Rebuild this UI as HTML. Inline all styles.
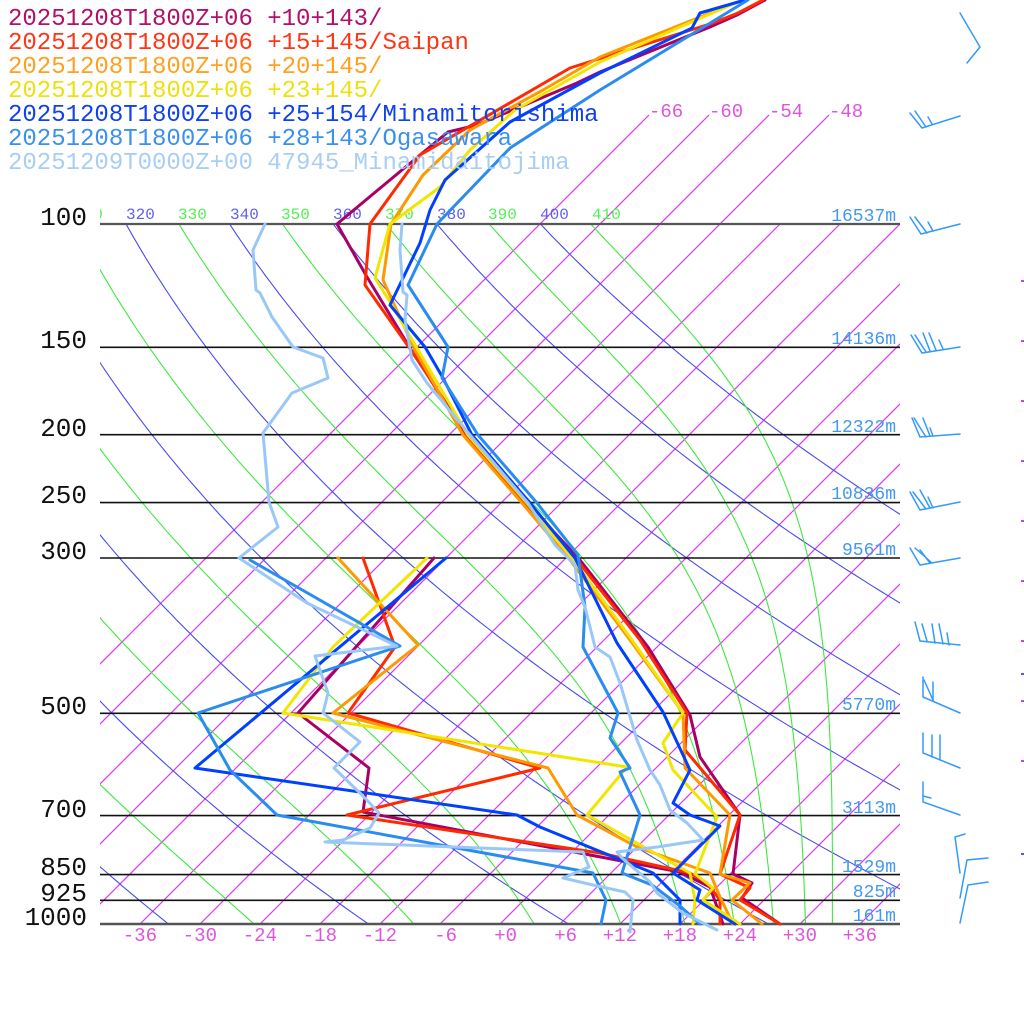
<!DOCTYPE html>
<html><head><meta charset="utf-8"><style>
html,body{margin:0;padding:0;background:#fff;}
svg{display:block;}
text{font-family:"Liberation Mono","DejaVu Sans Mono",monospace;}
</style></head><body>
<svg id="s" width="1024" height="1024" viewBox="0 0 1024 1024" xmlns="http://www.w3.org/2000/svg">
<defs>
<clipPath id="cp"><rect x="100" y="224" width="800" height="700"/></clipPath>
<clipPath id="cpi"><rect x="100" y="0" width="800" height="924"/></clipPath>
<clipPath id="cpl"><rect x="100" y="190" width="820" height="40"/></clipPath>
</defs>
<rect width="1024" height="1024" fill="#fff"/>

<!-- isotherms -->
<g clip-path="url(#cpi)" stroke="#d63ce6" stroke-width="1.2" fill="none">
<line x1="649" y1="115" x2="-160" y2="924"/>
<line x1="709" y1="115" x2="-100" y2="924"/>
<line x1="769" y1="115" x2="-40" y2="924"/>
<line x1="829" y1="115" x2="20" y2="924"/>
<line x1="780" y1="224" x2="80" y2="924"/>
<line x1="840" y1="224" x2="140" y2="924"/>
<line x1="900" y1="224" x2="200" y2="924"/>
<line x1="960" y1="224" x2="260" y2="924"/>
<line x1="1020" y1="224" x2="320" y2="924"/>
<line x1="1080" y1="224" x2="380" y2="924"/>
<line x1="1140" y1="224" x2="440" y2="924"/>
<line x1="1200" y1="224" x2="500" y2="924"/>
<line x1="1260" y1="224" x2="560" y2="924"/>
<line x1="1320" y1="224" x2="620" y2="924"/>
<line x1="1380" y1="224" x2="680" y2="924"/>
<line x1="1440" y1="224" x2="740" y2="924"/>
<line x1="1500" y1="224" x2="800" y2="924"/>
<line x1="1560" y1="224" x2="860" y2="924"/>
</g>

<!-- adiabats (generated) -->
<g id="adi" clip-path="url(#cp)" stroke-width="1.1" fill="none"></g>

<!-- theta labels -->
<g clip-path="url(#cpl)" font-size="16">
<text x="74" y="219" fill="#55ee55">310</text>
<text x="126" y="219" fill="#6060ee">320</text>
<text x="178" y="219" fill="#55ee55">330</text>
<text x="230" y="219" fill="#6060ee">340</text>
<text x="281" y="219" fill="#55ee55">350</text>
<text x="333" y="219" fill="#6060ee">360</text>
<text x="385" y="219" fill="#55ee55">370</text>
<text x="437" y="219" fill="#6060ee">380</text>
<text x="488" y="219" fill="#55ee55">390</text>
<text x="540" y="219" fill="#6060ee">400</text>
<text x="592" y="219" fill="#55ee55">410</text>
</g>

<!-- isotherm top labels -->
<g font-size="19" fill="#dd55dd">
<text x="649" y="117">-66</text>
<text x="709" y="117">-60</text>
<text x="769" y="117">-54</text>
<text x="829" y="117">-48</text>
</g>

<!-- pressure lines -->
<g stroke-width="1.6" fill="none">
<line x1="100" y1="224" x2="900" y2="224" stroke="#555" stroke-width="2.2"/>
<line x1="100" y1="347.3" x2="900" y2="347.3" stroke="#111"/>
<line x1="100" y1="434.7" x2="900" y2="434.7" stroke="#111"/>
<line x1="100" y1="502.6" x2="900" y2="502.6" stroke="#111"/>
<line x1="100" y1="558" x2="900" y2="558" stroke="#111"/>
<line x1="100" y1="713.3" x2="900" y2="713.3" stroke="#111"/>
<line x1="100" y1="815.6" x2="900" y2="815.6" stroke="#111"/>
<line x1="100" y1="874.6" x2="900" y2="874.6" stroke="#111"/>
<line x1="100" y1="900.3" x2="900" y2="900.3" stroke="#111"/>
<line x1="100" y1="924" x2="900" y2="924" stroke="#555" stroke-width="2.6"/>
</g>

<!-- pressure labels -->
<g font-size="26" fill="#111" text-anchor="end">
<text x="87" y="225">100</text>
<text x="87" y="348">150</text>
<text x="87" y="436">200</text>
<text x="87" y="503">250</text>
<text x="87" y="559">300</text>
<text x="87" y="714">500</text>
<text x="87" y="817">700</text>
<text x="87" y="875">850</text>
<text x="87" y="901">925</text>
<text x="87" y="925">1000</text>
</g>

<!-- height labels -->
<g font-size="18" fill="#4499ee" text-anchor="end">
<text x="896" y="221">16537m</text>
<text x="896" y="344">14136m</text>
<text x="896" y="432">12322m</text>
<text x="896" y="499">10836m</text>
<text x="896" y="555">9561m</text>
<text x="896" y="710">5770m</text>
<text x="896" y="813">3113m</text>
<text x="896" y="872">1529m</text>
<text x="896" y="897">825m</text>
<text x="896" y="921">161m</text>
</g>

<!-- bottom temperature labels -->
<g font-size="19" fill="#dd55dd" text-anchor="end">
<text x="157" y="941">-36</text>
<text x="217" y="941">-30</text>
<text x="277" y="941">-24</text>
<text x="337" y="941">-18</text>
<text x="397" y="941">-12</text>
<text x="457" y="941">-6</text>
<text x="517" y="941">+0</text>
<text x="577" y="941">+6</text>
<text x="637" y="941">+12</text>
<text x="697" y="941">+18</text>
<text x="757" y="941">+24</text>
<text x="817" y="941">+30</text>
<text x="877" y="941">+36</text>
</g>

<!-- series -->
<g fill="none" stroke-width="3" stroke-linejoin="round" stroke-linecap="round">
<polyline stroke="#aa0066" points="765,0 737,15 710,27 600,72 577,83 477,125 448,132 420,155 337,224 367,277 413,353 467,435 527,503 580,560 648,647 690,715 700,757 740,815 733,874 752,883 742,898 780,924"/>
<polyline stroke="#aa0066" points="434,558 298,713 369,768 363,812 680,872 710,887 723,924"/>

<polyline stroke="#ff2a00" points="763,0 738,13 713,23 570,68 420,155 370,224 365,285 420,363 465,435 525,503 577,560 640,640 687,713 685,750 740,815 720,874 750,888 740,900 780,924"/>
<polyline stroke="#ff2a00" points="363,558 395,647 348,713 540,768 347,815 600,853 690,873 707,883 720,900 720,924"/>

<polyline stroke="#ff9900" points="743,0 600,57 543,90 470,130 423,175 391,224 383,280 392,300 415,350 463,435 522,503 570,560 630,640 683,713 685,768 730,815 720,874 750,883 732,900 762,924"/>
<polyline stroke="#ff9900" points="338,558 418,645 333,713 548,768 577,815 637,847 710,873 720,897 733,924"/>

<polyline stroke="#f2e600" points="742,0 600,62 515,110 470,150 440,187 390,224 375,278 390,302 418,350 468,435 527,503 572,558 632,640 683,713 663,743 673,770 717,817 695,874 713,888 703,900 740,924"/>
<polyline stroke="#f2e600" points="427,558 333,647 283,713 627,767 587,815 690,873 695,900 693,924"/>

<polyline stroke="#0040ff" points="745,0 700,13 692,28 600,73 510,122 445,180 430,210 420,243 390,305 425,347 443,378 472,435 530,503 575,558 617,643 663,712 690,770 673,803 690,815 720,826 673,873 700,890 697,900 735,924"/>
<polyline stroke="#0040ff" points="446,558 195,768 517,815 540,827 653,873 680,900 680,924"/>

<polyline stroke="#2a8cf0" points="748,0 600,90 510,148 437,224 408,285 448,347 442,378 478,435 537,503 578,555 585,607 583,647 618,713 610,738 630,768 620,772 640,815 622,873 652,885 680,906 700,924"/>
<polyline stroke="#2a8cf0" points="250,560 400,646 198,713 230,770 277,815 593,873 606,900 601,924"/>

<polyline stroke="#99c8f8" points="402,224 400,250 403,292 407,295 405,320 412,360 427,383 470,435 528,503 555,545 575,565 578,590 585,607 595,647 610,657 620,683 637,740 650,770 660,785 670,810 687,823 703,840 657,847 617,852 622,858 650,882 657,893 683,913 717,930"/>
<polyline stroke="#99c8f8" points="265,224 253,250 256,290 260,293 272,317 293,347 323,358 328,378 292,393 263,433 269,502 278,527 239,558 307,603 397,646 315,656 328,693 323,713 360,742 334,768 362,795 379,813 370,828 343,840 325,842 583,852 589,867 563,878 593,885 625,892 633,900 630,932"/>
</g>

<!-- legend -->
<g font-size="24">
<text x="8" y="25" fill="#b0106a">20251208T1800Z+06 +10+143/</text>
<text x="8" y="49" fill="#ff3515">20251208T1800Z+06 +15+145/Saipan</text>
<text x="8" y="73" fill="#ffa020">20251208T1800Z+06 +20+145/</text>
<text x="8" y="97" fill="#eee010">20251208T1800Z+06 +23+145/</text>
<text x="8" y="121" fill="#1040f0">20251208T1800Z+06 +25+154/Minamitorishima</text>
<text x="8" y="145" fill="#3a90f0">20251208T1800Z+06 +28+143/Ogasawara</text>
<text x="8" y="169" fill="#a8cef6">20251209T0000Z+00 47945_Minamidaitojima</text>
</g>

<!-- wind barbs -->
<g stroke="#3399ff" stroke-width="1.5" fill="none" stroke-linecap="round">
<polyline points="960,13 980,47 967,63"/>
<polyline points="910,113 922,128 960,116"/><line x1="915" y1="111" x2="926" y2="127"/><line x1="928" y1="117" x2="932" y2="124"/>
<polyline points="910,217 921,234 960,224"/><polyline points="915,217 927,233"/><line x1="928" y1="222" x2="933" y2="231"/>
<polyline points="911,335 922,353 960,347"/><line x1="915" y1="335" x2="926" y2="352"/><line x1="923" y1="333" x2="930" y2="351"/><line x1="929" y1="333" x2="936" y2="350"/><line x1="939" y1="340" x2="943" y2="349"/>
<polyline points="912,418 920,437 960,434"/><line x1="914" y1="418" x2="926" y2="437"/><line x1="923" y1="418" x2="930" y2="436"/><line x1="930" y1="428" x2="933" y2="436"/>
<polyline points="910,492 920,510 960,502"/><line x1="913" y1="492" x2="926" y2="509"/><line x1="920" y1="490" x2="930" y2="508"/><line x1="928" y1="497" x2="933" y2="508"/>
<polyline points="910,548 920,565 960,558"/><line x1="915" y1="548" x2="932" y2="563"/><line x1="920" y1="550" x2="930" y2="563"/>
<polyline points="915,622 920,641 960,645"/><line x1="922" y1="624" x2="927" y2="641"/><line x1="932" y1="624" x2="935" y2="643"/><line x1="939" y1="624" x2="943" y2="644"/><line x1="947" y1="633" x2="949" y2="645"/>
<polyline points="923,677 923,697 960,713"/><line x1="924" y1="680" x2="933" y2="700"/><line x1="933" y1="682" x2="933" y2="701"/>
<polyline points="923,733 923,753 960,768"/><line x1="932" y1="735" x2="932" y2="757"/><line x1="940" y1="735" x2="940" y2="760"/>
<polyline points="923,782 923,802 960,815"/><line x1="923" y1="796" x2="931" y2="798"/>
<polyline points="965,834 955,837 960,873"/>
<polyline points="960,898 967,860 988,858"/>
<polyline points="960,923 968,885 988,882"/>
</g>

<!-- tiny right-edge marks -->
<g fill="#cc44dd">
<rect x="1021" y="280" width="3" height="2"/><rect x="1021" y="340" width="3" height="2"/><rect x="1021" y="400" width="3" height="2"/><rect x="1021" y="460" width="3" height="2"/><rect x="1021" y="520" width="3" height="2"/><rect x="1021" y="580" width="3" height="2"/><rect x="1021" y="640" width="3" height="2"/><rect x="1021" y="700" width="3" height="2"/><rect x="1021" y="760" width="3" height="2"/>
<rect x="1021" y="673" width="3" height="2" fill="#5555ee"/><rect x="1021" y="853" width="3" height="2" fill="#5555ee"/>
</g>
</svg>
<script>
(function(){
var k=700/Math.log(10);
function Y(p){return 924-k*Math.log(1000/p);}
function X(Tk,y){return 500+10*(Tk-273.15)+(924-y);}
var ns="http://www.w3.org/2000/svg";
var g=document.getElementById('adi');
function add(pts,col){var e=document.createElementNS(ns,'polyline');e.setAttribute('points',pts.map(function(q){return q[0].toFixed(1)+','+q[1].toFixed(1);}).join(' '));e.setAttribute('stroke',col);g.appendChild(e);}
var ps=[];for(var i=0;i<=120;i++){ps.push(100*Math.pow(10,i/120));}
for(var th=240;th<=400;th+=20){var pts=[];for(var j=0;j<ps.length;j++){var p=ps[j];var y=Y(p);pts.push([X(th*Math.pow(p/1000,0.2857),y),y]);}add(pts,'#4a4aee');}
function te(T,p){var c=T-273.15;var es=6.112*Math.exp(17.67*c/(c+243.5));if(es>p*0.5)es=p*0.5;var r=622*es/(p-es);return T*Math.pow(1000/p,0.2854*(1-0.00028*r))*Math.exp((3.376/T-0.00254)*r*(1+0.00081*r));}
for(var e=250;e<=410;e+=20){var pts=[];for(var j=0;j<ps.length;j++){var p=ps[j];var lo=150,hi=345;for(var n=0;n<50;n++){var m=(lo+hi)/2;if(te(m,p)<e)lo=m;else hi=m;}var y=Y(p);pts.push([X(lo,y),y]);}add(pts,'#3fe83f');}
})();
</script>
</body></html>
